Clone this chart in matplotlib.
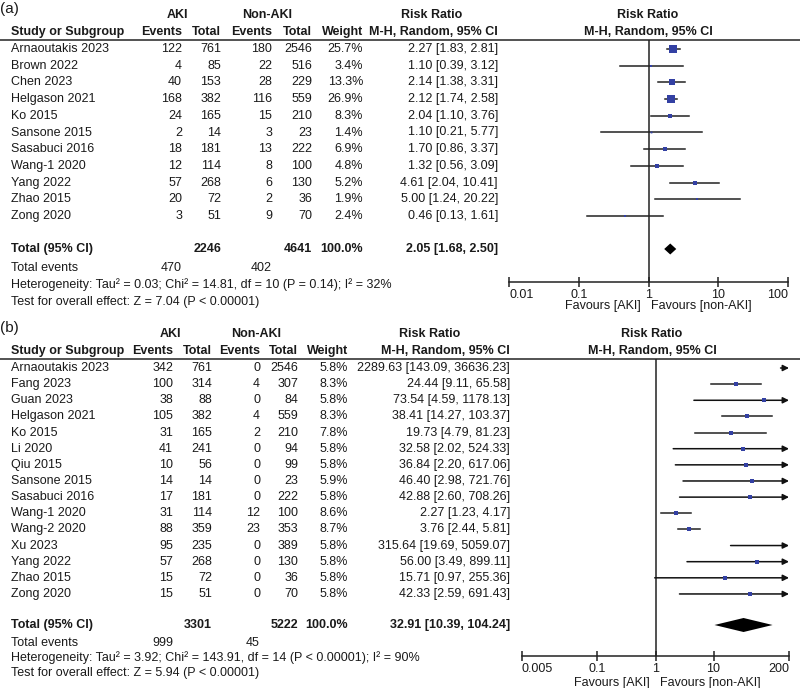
import matplotlib
matplotlib.use("Agg")
import matplotlib.pyplot as plt
import numpy as np

plt.rcParams['font.family'] = ['Liberation Sans', 'DejaVu Sans']

# ---------------- data: panel (a) ----------------
studies_a = ["Arnaoutakis 2023", "Brown 2022", "Chen 2023", "Helgason 2021", "Ko 2015",
             "Sansone 2015", "Sasabuci 2016", "Wang-1 2020", "Yang 2022", "Zhao 2015", "Zong 2020"]
aki_events_a = [122, 4, 40, 168, 24, 2, 18, 12, 57, 20, 3]
aki_total_a = [761, 85, 153, 382, 165, 14, 181, 114, 268, 72, 51]
non_events_a = [180, 22, 28, 116, 15, 3, 13, 8, 6, 2, 9]
non_total_a = [2546, 516, 229, 559, 210, 23, 222, 100, 130, 36, 70]
weight_a = [25.7, 3.4, 13.3, 26.9, 8.3, 1.4, 6.9, 4.8, 5.2, 1.9, 2.4]
rr_a = [2.27, 1.10, 2.14, 2.12, 2.04, 1.10, 1.70, 1.32, 4.61, 5.00, 0.46]
lo_a = [1.83, 0.39, 1.38, 1.74, 1.10, 0.21, 0.86, 0.56, 2.04, 1.24, 0.13]
hi_a = [2.81, 3.12, 3.31, 2.58, 3.76, 5.77, 3.37, 3.09, 10.41, 20.22, 1.61]
tot_a = dict(aki_total=2246, non_total=4641, aki_events=470, non_events=402,
             weight="100.0%", rr=2.05, lo=1.68, hi=2.50)
het_a = "Heterogeneity: Tau\u00b2 = 0.03; Chi\u00b2 = 14.81, df = 10 (P = 0.14); I\u00b2 = 32%"
test_a = "Test for overall effect: Z = 7.04 (P < 0.00001)"
ticks_a = [0.01, 0.1, 1, 10, 100]
ticklabels_a = ["0.01", "0.1", "1", "10", "100"]

# ---------------- data: panel (b) ----------------
studies_b = ["Arnaoutakis 2023", "Fang 2023", "Guan 2023", "Helgason 2021", "Ko 2015", "Li 2020",
             "Qiu 2015", "Sansone 2015", "Sasabuci 2016", "Wang-1 2020", "Wang-2 2020", "Xu 2023",
             "Yang 2022", "Zhao 2015", "Zong 2020"]
aki_events_b = [342, 100, 38, 105, 31, 41, 10, 14, 17, 31, 88, 95, 57, 15, 15]
aki_total_b = [761, 314, 88, 382, 165, 241, 56, 14, 181, 114, 359, 235, 268, 72, 51]
non_events_b = [0, 4, 0, 4, 2, 0, 0, 0, 0, 12, 23, 0, 0, 0, 0]
non_total_b = [2546, 307, 84, 559, 210, 94, 99, 23, 222, 100, 353, 389, 130, 36, 70]
weight_b = [5.8, 8.3, 5.8, 8.3, 7.8, 5.8, 5.8, 5.9, 5.8, 8.6, 8.7, 5.8, 5.8, 5.8, 5.8]
rr_b = [2289.63, 24.44, 73.54, 38.41, 19.73, 32.58, 36.84, 46.40, 42.88, 2.27, 3.76, 315.64, 56.00, 15.71, 42.33]
lo_b = [143.09, 9.11, 4.59, 14.27, 4.79, 2.02, 2.20, 2.98, 2.60, 1.23, 2.44, 19.69, 3.49, 0.97, 2.59]
hi_b = [36636.23, 65.58, 1178.13, 103.37, 81.23, 524.33, 617.06, 721.76, 708.26, 4.17, 5.81, 5059.07, 899.11, 255.36, 691.43]
tot_b = dict(aki_total=3301, non_total=5222, aki_events=999, non_events=45,
             weight="100.0%", rr=32.91, lo=10.39, hi=104.24)
het_b = "Heterogeneity: Tau\u00b2 = 3.92; Chi\u00b2 = 143.91, df = 14 (P < 0.00001); I\u00b2 = 90%"
test_b = "Test for overall effect: Z = 5.94 (P < 0.00001)"
ticks_b = [0.005, 0.1, 1, 10, 200]
ticklabels_b = ["0.005", "0.1", "1", "10", "200"]

# ---------------- figure ----------------
W, H = 800, 688
fig = plt.figure(figsize=(8, 6.88), dpi=100)
bg = fig.add_axes([0, 0, 1, 1])
bg.set_xlim(0, W)
bg.set_ylim(H, 0)
bg.axis('off')

TXT = '#1a1a1a'
FS = 9
MARK = '#3340a3'


def fmt_ci(r, l, h):
    return f"{r:.2f} [{l:.2f}, {h:.2f}]"


def panel(label, studies, ae, at, ne, nt, wt, rr, lo, hi, tot, het, test, ticks, ticklabels,
          L):
    t = lambda x, y, s, **k: bg.text(x, y, s, fontsize=k.pop('fs', FS), color=TXT, va='center', **k)
    t(0, L['label_y'], label, fs=11, ha='left')
    t(L['aki_c'], L['grp_y'], "AKI", ha='center', fontweight='bold')
    t(L['non_c'], L['grp_y'], "Non-AKI", ha='center', fontweight='bold')
    t(L['rr_head_c'], L['grp_y'], "Risk Ratio", ha='center', fontweight='bold')
    t(L['plot_head_c'], L['grp_y'], "Risk Ratio", ha='center', fontweight='bold')
    hy = L['head_y']
    t(11, hy, "Study or Subgroup", ha='left', fontweight='bold')
    t(L['c_ae'], hy, "Events", ha='right', fontweight='bold')
    t(L['c_at'], hy, "Total", ha='right', fontweight='bold')
    t(L['c_ne'], hy, "Events", ha='right', fontweight='bold')
    t(L['c_nt'], hy, "Total", ha='right', fontweight='bold')
    t(L['c_w'], hy, "Weight", ha='right', fontweight='bold')
    t(L['c_rr'], hy, "M-H, Random, 95% CI", ha='right', fontweight='bold')
    t(L['plot_head_c'], hy, "M-H, Random, 95% CI", ha='center', fontweight='bold')
    bg.plot([0, W], [L['line_y'], L['line_y']], color='#444444', lw=1.3)

    n = len(studies)
    ys = L['row0'] + np.arange(n) * L['dy']
    for i in range(n):
        y = ys[i]
        t(11, y, studies[i], ha='left')
        t(L['c_ae'], y, str(ae[i]), ha='right')
        t(L['c_at'], y, str(at[i]), ha='right')
        t(L['c_ne'], y, str(ne[i]), ha='right')
        t(L['c_nt'], y, str(nt[i]), ha='right')
        t(L['c_w'], y, f"{wt[i]:.1f}%", ha='right')
        t(L['c_rr'], y, fmt_ci(rr[i], lo[i], hi[i]), ha='right')
    ty = L['tot_y']
    t(11, ty, "Total (95% CI)", ha='left', fontweight='bold')
    t(L['c_at'], ty, str(tot['aki_total']), ha='right', fontweight='bold')
    t(L['c_nt'], ty, str(tot['non_total']), ha='right', fontweight='bold')
    t(L['c_w'], ty, tot['weight'], ha='right', fontweight='bold')
    t(L['c_rr'], ty, fmt_ci(tot['rr'], tot['lo'], tot['hi']), ha='right', fontweight='bold')
    t(11, L['ev_y'], "Total events", ha='left')
    t(L['c_ae'], L['ev_y'], str(tot['aki_events']), ha='right')
    t(L['c_ne'], L['ev_y'], str(tot['non_events']), ha='right')
    t(11, L['het_y'], het, ha='left')
    t(11, L['test_y'], test, ha='left')

    # forest axes, y in pixel rows
    x0, x1 = L['ax_x0'], L['ax_x1']
    y0, y1 = L['line_y'], L['axis_y']
    ax = fig.add_axes([x0 / W, (H - y1) / H, (x1 - x0) / W, (y1 - y0) / H])
    ax.set_xscale('log')
    xmin, xmax = ticks[0], ticks[-1]
    ax.set_xlim(xmin, xmax)
    ax.set_ylim(y1, y0)
    ax.patch.set_alpha(0)
    for s in ['top', 'left', 'right']:
        ax.spines[s].set_visible(False)
    ax.spines['bottom'].set_color('#222222')
    ax.spines['bottom'].set_linewidth(1.1)
    ax.set_yticks([])
    ax.set_xticks(ticks)
    ax.set_xticklabels(ticklabels)
    ax.xaxis.set_minor_locator(matplotlib.ticker.NullLocator())
    ax.tick_params(axis='x', direction='inout', length=7, width=1.1, labelsize=FS,
                   labelcolor=TXT, pad=1.5, color='#222222')
    lbls = ax.get_xticklabels()
    lbls[0].set_ha('left')
    lbls[-1].set_ha('right')
    ax.axvline(1, color='#222222', lw=1.1)

    for i in range(n):
        y = ys[i]
        l = max(lo[i], xmin)
        if hi[i] > xmax:
            ax.annotate('', xy=(xmax, y), xytext=(l, y), annotation_clip=False,
                        arrowprops=dict(arrowstyle='-|>', color='#111111', lw=1.1,
                                        mutation_scale=9, shrinkA=0, shrinkB=0))
        else:
            ax.plot([l, hi[i]], [y, y], color='#222222', lw=1.1, clip_on=False)
        if xmin <= rr[i] <= xmax:
            ms = L['mk'] * np.sqrt(wt[i]) / 1.389
            ax.plot(rr[i], y, marker='s', ms=ms, color=MARK, mec=MARK, mew=0, zorder=3)
    # diamond
    dh = L['dia_h']
    ax.fill([tot['lo'], tot['rr'], tot['hi'], tot['rr']], [ty, ty - dh, ty, ty + dh],
            color='black', lw=0, zorder=3)
    t(L['fav_mid'] - 5, L['fav_y'], "Favours [AKI]", ha='right')
    t(L['fav_mid'] + 5, L['fav_y'], "Favours [non-AKI]", ha='left')


La = dict(label_y=9, grp_y=15, head_y=32, line_y=40, row0=49, dy=16.7, tot_y=249, ev_y=268,
          het_y=285, test_y=302, aki_c=177, non_c=267, c_ae=182, c_at=221, c_ne=272, c_nt=312,
          c_w=363, c_rr=498, rr_head_c=432, plot_head_c=648, ax_x0=509, ax_x1=788, axis_y=282,
          mk=1.55, dia_h=5.5, fav_mid=646, fav_y=306)
Lb = dict(label_y=328, grp_y=334, head_y=351, line_y=359, row0=368, dy=16.14, tot_y=625, ev_y=643,
          het_y=658, test_y=673, aki_c=170, non_c=256, c_ae=173, c_at=212, c_ne=260, c_nt=298,
          c_w=348, c_rr=510, rr_head_c=430, plot_head_c=652, ax_x0=522, ax_x1=789, axis_y=656,
          mk=1.45, dia_h=7, fav_mid=655, fav_y=683)

panel("(a)", studies_a, aki_events_a, aki_total_a, non_events_a, non_total_a, weight_a,
      rr_a, lo_a, hi_a, tot_a, het_a, test_a, ticks_a, ticklabels_a, La)
panel("(b)", studies_b, aki_events_b, aki_total_b, non_events_b, non_total_b, weight_b,
      rr_b, lo_b, hi_b, tot_b, het_b, test_b, ticks_b, ticklabels_b, Lb)

fig.savefig("out.png", dpi=100)
